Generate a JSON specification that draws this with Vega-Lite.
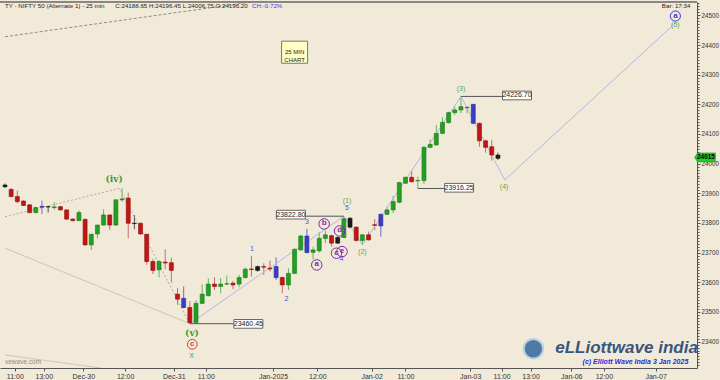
{
  "$schema": "https://vega.github.io/schema/vega-lite/v6.json",
  "width": 697,
  "height": 366,
  "autosize": "none",
  "padding": {"left": 0, "right": 23, "top": 2, "bottom": 12},
  "background": "#f2ead8",
  "config": {"view": {"stroke": null}, "font": "Liberation Sans"},
  "resolve": {"scale": {"color": "independent", "fill": "independent", "stroke": "independent", "size": "independent", "strokeDash": "independent"}, "axis": {"x": "independent", "y": "independent"}},
  "datasets": {
    "candles": [
      {"i":0,"o":23928,"h":23933,"l":23918,"c":23922,"k":"bk"},
      {"i":1,"o":23913,"h":23918,"l":23887,"c":23889,"k":"dn"},
      {"i":2,"o":23889,"h":23909,"l":23866,"c":23872,"k":"dn"},
      {"i":3,"o":23874,"h":23876,"l":23857,"c":23859,"k":"dn"},
      {"i":4,"o":23861,"h":23864,"l":23833,"c":23835,"k":"dn"},
      {"i":5,"o":23835,"h":23855,"l":23833,"c":23852,"k":"up"},
      {"i":6,"o":23853,"h":23875,"l":23830,"c":23856,"k":"bl"},
      {"i":7,"o":23855,"h":23856,"l":23835,"c":23854,"k":"bk"},
      {"i":8,"o":23852,"h":23870,"l":23844,"c":23854,"k":"up"},
      {"i":9,"o":23855,"h":23856,"l":23843,"c":23844,"k":"dn"},
      {"i":10,"o":23844,"h":23846,"l":23810,"c":23813,"k":"dn"},
      {"i":11,"o":23813,"h":23816,"l":23805,"c":23808,"k":"dn"},
      {"i":12,"o":23808,"h":23843,"l":23806,"c":23835,"k":"up"},
      {"i":13,"o":23812,"h":23815,"l":23724,"c":23726,"k":"dn"},
      {"i":14,"o":23726,"h":23762,"l":23709,"c":23762,"k":"up"},
      {"i":15,"o":23763,"h":23794,"l":23748,"c":23793,"k":"up"},
      {"i":16,"o":23793,"h":23846,"l":23792,"c":23827,"k":"up"},
      {"i":17,"o":23827,"h":23828,"l":23777,"c":23793,"k":"dn"},
      {"i":18,"o":23793,"h":23879,"l":23790,"c":23878,"k":"up"},
      {"i":19,"o":23878,"h":23917,"l":23872,"c":23881,"k":"up"},
      {"i":20,"o":23884,"h":23902,"l":23748,"c":23799,"k":"dn"},
      {"i":21,"o":23799,"h":23827,"l":23779,"c":23798,"k":"bk"},
      {"i":22,"o":23799,"h":23801,"l":23760,"c":23763,"k":"dn"},
      {"i":23,"o":23762,"h":23762,"l":23659,"c":23670,"k":"dn"},
      {"i":24,"o":23670,"h":23678,"l":23628,"c":23640,"k":"dn"},
      {"i":25,"o":23642,"h":23675,"l":23617,"c":23670,"k":"up"},
      {"i":26,"o":23668,"h":23711,"l":23644,"c":23665,"k":"dn"},
      {"i":27,"o":23666,"h":23683,"l":23599,"c":23640,"k":"dn"},
      {"i":28,"o":23560,"h":23580,"l":23524,"c":23543,"k":"dn"},
      {"i":29,"o":23546,"h":23586,"l":23513,"c":23515,"k":"bl"},
      {"i":30,"o":23515,"h":23536,"l":23460.45,"c":23464,"k":"dn"},
      {"i":31,"o":23464,"h":23540,"l":23462,"c":23529,"k":"up"},
      {"i":32,"o":23529,"h":23593,"l":23527,"c":23560,"k":"up"},
      {"i":33,"o":23555,"h":23614,"l":23552,"c":23594,"k":"up"},
      {"i":34,"o":23594,"h":23617,"l":23574,"c":23586,"k":"dn"},
      {"i":35,"o":23586,"h":23614,"l":23563,"c":23594,"k":"up"},
      {"i":36,"o":23594,"h":23623,"l":23591,"c":23595,"k":"up"},
      {"i":37,"o":23597,"h":23605,"l":23577,"c":23591,"k":"dn"},
      {"i":38,"o":23594,"h":23625,"l":23583,"c":23616,"k":"up"},
      {"i":39,"o":23616,"h":23650,"l":23613,"c":23644,"k":"up"},
      {"i":40,"o":23645,"h":23689,"l":23619,"c":23643,"k":"dn"},
      {"i":41,"o":23653,"h":23656,"l":23636,"c":23640,"k":"bk"},
      {"i":42,"o":23653,"h":23664,"l":23625,"c":23651,"k":"dn"},
      {"i":43,"o":23648,"h":23673,"l":23636,"c":23645,"k":"dn"},
      {"i":44,"o":23653,"h":23684,"l":23608,"c":23616,"k":"bl"},
      {"i":45,"o":23616,"h":23619,"l":23563,"c":23591,"k":"dn"},
      {"i":46,"o":23591,"h":23647,"l":23574,"c":23630,"k":"up"},
      {"i":47,"o":23630,"h":23715,"l":23628,"c":23711,"k":"up"},
      {"i":48,"o":23709,"h":23760,"l":23707,"c":23756,"k":"up"},
      {"i":49,"o":23756,"h":23780,"l":23698,"c":23700,"k":"bl"},
      {"i":50,"o":23701,"h":23720,"l":23678,"c":23709,"k":"up"},
      {"i":51,"o":23706,"h":23769,"l":23700,"c":23748,"k":"up"},
      {"i":52,"o":23748,"h":23774,"l":23732,"c":23760,"k":"up"},
      {"i":53,"o":23757,"h":23760,"l":23720,"c":23732,"k":"dn"},
      {"i":54,"o":23732,"h":23754,"l":23730,"c":23751,"k":"bk"},
      {"i":55,"o":23751,"h":23822.8,"l":23749,"c":23814,"k":"up"},
      {"i":56,"o":23816,"h":23819,"l":23782,"c":23786,"k":"bk"},
      {"i":57,"o":23786,"h":23788,"l":23737,"c":23741,"k":"dn"},
      {"i":58,"o":23741,"h":23762,"l":23726,"c":23760,"k":"up"},
      {"i":59,"o":23760,"h":23771,"l":23741,"c":23743,"k":"dn"},
      {"i":60,"o":23794,"h":23813,"l":23776,"c":23792,"k":"dn"},
      {"i":61,"o":23790,"h":23832,"l":23754,"c":23829,"k":"bl"},
      {"i":62,"o":23829,"h":23855,"l":23827,"c":23844,"k":"up"},
      {"i":63,"o":23844,"h":23891,"l":23833,"c":23872,"k":"up"},
      {"i":64,"o":23870,"h":23939,"l":23866,"c":23936,"k":"up"},
      {"i":65,"o":23934,"h":23956,"l":23932,"c":23954,"k":"up"},
      {"i":66,"o":23954,"h":23975,"l":23937,"c":23939,"k":"dn"},
      {"i":67,"o":23942,"h":23956,"l":23916.25,"c":23943,"k":"up"},
      {"i":68,"o":23943,"h":24060,"l":23931,"c":24055,"k":"up"},
      {"i":69,"o":24055,"h":24082,"l":24052,"c":24065,"k":"up"},
      {"i":70,"o":24063,"h":24130,"l":24061,"c":24102,"k":"up"},
      {"i":71,"o":24102,"h":24156,"l":24100,"c":24139,"k":"up"},
      {"i":72,"o":24138,"h":24175,"l":24136,"c":24172,"k":"up"},
      {"i":73,"o":24172,"h":24192,"l":24164,"c":24181,"k":"up"},
      {"i":74,"o":24181,"h":24226.7,"l":24170,"c":24192,"k":"up"},
      {"i":75,"o":24188,"h":24194,"l":24170,"c":24190,"k":"up"},
      {"i":76,"o":24200,"h":24201,"l":24133,"c":24136,"k":"bl"},
      {"i":77,"o":24136,"h":24138,"l":24057,"c":24077,"k":"dn"},
      {"i":78,"o":24077,"h":24080,"l":24037,"c":24055,"k":"dn"},
      {"i":79,"o":24057,"h":24080,"l":24010,"c":24029,"k":"dn"},
      {"i":80,"o":24029,"h":24037,"l":24012,"c":24018,"k":"bk"}
    ],
    "trend": [
      {"g":"A","i":0,"v":24428},{"g":"A","i":40,"v":24545},
      {"g":"B","i":0,"v":23821},{"g":"B","i":18.6,"v":23917},{"g":"B","i":30,"v":23460.45},
      {"g":"C","i":0,"v":23715},{"g":"C","i":30,"v":23460.45},
      {"g":"D","i":0,"v":23355},{"g":"D","i":15.5,"v":23311}
    ],
    "wave": [
      {"i":30,"v":23460.45},{"i":55,"v":23822.8},{"i":58,"v":23726},
      {"i":74,"v":24226.7},{"i":81.1,"v":23945},{"i":108.8,"v":24474}
    ],
    "plines": [
      {"g":"P1","i":30,"v":23460.45},{"g":"P1","i":37.1,"v":23460.45},
      {"g":"P2","i":48.6,"v":23822.8},{"g":"P2","i":55,"v":23822.8},
      {"g":"P3","i":74,"v":24226.7},{"g":"P3","i":80.9,"v":24226.7},
      {"g":"P4","i":67,"v":23916.25},{"g":"P4","i":71.5,"v":23916.25}
    ],
    "boxes": [
      {"i":39.5,"v":23459.7,"t":"23460.45"},
      {"i":46.4,"v":23828,"t":"23822.80"},
      {"i":83.1,"v":24229.8,"t":"24226.70"},
      {"i":73.7,"v":23918.7,"t":"23916.25"}
    ],
    "labels": [
      {"i":17.7,"v":23948,"t":"(iv)","s":"gs"},
      {"i":30.35,"v":23430,"t":"(v)","s":"gs"},
      {"i":55.5,"v":23875,"t":"(1)","s":"g"},
      {"i":58,"v":23701,"t":"(2)","s":"g"},
      {"i":74,"v":24250.7,"t":"(3)","s":"g"},
      {"i":81,"v":23921.4,"t":"(4)","s":"g"},
      {"i":108.8,"v":24467.4,"t":"(5)","s":"g"},
      {"i":30.3,"v":23352,"t":"X","s":"x"},
      {"i":40.1,"v":23712.5,"t":"1","s":"b"},
      {"i":45.7,"v":23544,"t":"2","s":"b"},
      {"i":49,"v":23802,"t":"3","s":"b"},
      {"i":54.6,"v":23677.8,"t":"4","s":"b"},
      {"i":55.5,"v":23849.6,"t":"5","s":"b"}
    ],
    "circles": [
      {"i":30.4,"v":23391,"t":"c","s":"red"},
      {"i":108.8,"v":24497.7,"t":"a","s":"blue"},
      {"i":50.6,"v":23658.5,"t":"a","s":"purple"},
      {"i":51.8,"v":23796.7,"t":"b","s":"purple"},
      {"i":53.8,"v":23698,"t":"c","s":"purple"},
      {"i":54.3,"v":23773,"t":"d","s":"purple"},
      {"i":54.7,"v":23703.4,"t":"e","s":"purple"}
    ],
    "header": [
      {"i":0,"v":24531,"t":"TY - NIFTY 50 (Alternate 1) - 25 min","s":"dark"},
      {"i":17.9,"v":24531,"t":"C:24188.65  H:24196.45  L:24006.75  O:24196.20","s":"dark"},
      {"i":40.1,"v":24531,"t":"CH:-0.72%","s":"blue"},
      {"i":106.6,"v":24531,"t":"Bar: 17:34","s":"dark"}
    ],
    "note": [{"i":47,"v":24375.7,"t":"25 MIN|CHART"}],
    "tag": [{"i":113.6,"v":24021,"t":"24015"}],
    "logo": [{"i":89.3,"v":23379,"t":"eLLiottwave india"}],
    "globe": [{"i":85.76,"v":23376}],
    "copy": [{"i":110.9,"v":23332.7,"t":"(c) Elliott Wave India 3 Jan 2025"}],
    "web": [{"i":0,"v":23332,"t":"vewave.com"}],
    "frame": [{"v":24545}],
    "minor": [
      {"v":23320},{"v":23330},{"v":23340},{"v":23350},{"v":23360},{"v":23370},{"v":23380},{"v":23390},{"v":23410},{"v":23420},{"v":23430},{"v":23440},{"v":23450},{"v":23460},{"v":23470},{"v":23480},{"v":23490},{"v":23510},{"v":23520},{"v":23530},{"v":23540},{"v":23550},{"v":23560},{"v":23570},{"v":23580},{"v":23590},{"v":23610},{"v":23620},{"v":23630},{"v":23640},{"v":23650},{"v":23660},{"v":23670},{"v":23680},{"v":23690},{"v":23710},{"v":23720},{"v":23730},{"v":23740},{"v":23750},{"v":23760},{"v":23770},{"v":23780},{"v":23790},{"v":23810},{"v":23820},{"v":23830},{"v":23840},{"v":23850},{"v":23860},{"v":23870},{"v":23880},{"v":23890},{"v":23910},{"v":23920},{"v":23930},{"v":23940},{"v":23950},{"v":23960},{"v":23970},{"v":23980},{"v":23990},{"v":24010},{"v":24020},{"v":24030},{"v":24040},{"v":24050},{"v":24060},{"v":24070},{"v":24080},{"v":24090},{"v":24110},{"v":24120},{"v":24130},{"v":24140},{"v":24150},{"v":24160},{"v":24170},{"v":24180},{"v":24190},{"v":24210},{"v":24220},{"v":24230},{"v":24240},{"v":24250},{"v":24260},{"v":24270},{"v":24280},{"v":24290},{"v":24310},{"v":24320},{"v":24330},{"v":24340},{"v":24350},{"v":24360},{"v":24370},{"v":24380},{"v":24390},{"v":24410},{"v":24420},{"v":24430},{"v":24440},{"v":24450},{"v":24460},{"v":24470},{"v":24480},{"v":24490},{"v":24510},{"v":24520},{"v":24530},{"v":24540}
    ]
  },
  "layer": [
    {
      "data": {"name": "candles"},
      "mark": {"type": "rule", "strokeWidth": 1},
      "encoding": {
        "x": {"field": "i", "type": "quantitative",
          "scale": {"domain": [0, 111.5], "nice": false, "zero": false},
          "axis": {"title": null, "grid": false, "orient": "bottom",
            "values": [1.6, 6.3, 12.7, 19.5, 27.4, 32.6, 43.5, 50.7, 59.5, 65, 75.5, 80.6, 85.3, 91.9, 97.2, 105.6],
            "labelExpr": "['11:00','13:00','Dec-30','12:00','Dec-31','11:00','Jan-2025','12:00','Jan-02','11:00','Jan-03','11:00','13:00','Jan-06','12:00','Jan-07'][indexof([1.6, 6.3, 12.7, 19.5, 27.4, 32.6, 43.5, 50.7, 59.5, 65, 75.5, 80.6, 85.3, 91.9, 97.2, 105.6], datum.value)]",
            "labelFontSize": 7, "labelColor": "#333", "labelPadding": 1, "tickSize": 3,
            "tickColor": "#555", "domainColor": "#555", "labelOverlap": false, "labelFlush": false}},
        "y": {"field": "l", "type": "quantitative",
          "scale": {"domain": [23311, 24545], "nice": false, "zero": false},
          "axis": {"title": null, "grid": false, "orient": "right",
            "values": [23400, 23500, 23600, 23700, 23800, 23900, 24000, 24100, 24200, 24300, 24400, 24500],
            "format": "d",
            "labelFontSize": 6.3, "labelColor": "#333", "labelPadding": 1, "tickSize": 3,
            "tickColor": "#555", "domainColor": "#555", "labelOverlap": false, "labelBaseline": "middle", "labelFlush": false}},
        "y2": {"field": "h"},
        "color": {"field": "k", "type": "nominal",
          "scale": {"domain": ["up", "dn", "bl", "bk"], "range": ["#62b562", "#cc6a6a", "#6a6ad8", "#555555"]},
          "legend": null}
      }
    },
    {
      "data": {"name": "minor"},
      "mark": {"type": "rule", "opacity": 0},
      "encoding": {
        "y": {"field": "v", "type": "quantitative",
          "axis": {"title": null, "grid": false, "orient": "right", "values": [23320,23330,23340,23350,23360,23370,23380,23390,23410,23420,23430,23440,23450,23460,23470,23480,23490,23510,23520,23530,23540,23550,23560,23570,23580,23590,23610,23620,23630,23640,23650,23660,23670,23680,23690,23710,23720,23730,23740,23750,23760,23770,23780,23790,23810,23820,23830,23840,23850,23860,23870,23880,23890,23910,23920,23930,23940,23950,23960,23970,23980,23990,24010,24020,24030,24040,24050,24060,24070,24080,24090,24110,24120,24130,24140,24150,24160,24170,24180,24190,24210,24220,24230,24240,24250,24260,24270,24280,24290,24310,24320,24330,24340,24350,24360,24370,24380,24390,24410,24420,24430,24440,24450,24460,24470,24480,24490,24510,24520,24530,24540],
            "labels": false, "domain": false, "tickSize": 2, "tickColor": "#555"}}
      }
    },
    {
      "data": {"name": "trend"},
      "mark": {"type": "line", "strokeWidth": 1, "clip": true},
      "encoding": {
        "x": {"field": "i", "type": "quantitative", "axis": null},
        "y": {"field": "v", "type": "quantitative", "axis": null},
        "detail": {"field": "g"},
        "stroke": {"field": "g", "type": "nominal", "legend": null,
          "scale": {"domain": ["A", "B", "C", "D"], "range": ["#8a8a8a", "#b0aa9c", "#c9c2b2", "#c9c2b2"]}},
        "strokeDash": {"field": "g", "type": "nominal", "legend": null,
          "scale": {"domain": ["A", "B", "C", "D"], "range": [[3, 2], [2, 2], [1, 0], [1, 0]]}}
      }
    },
    {
      "data": {"name": "wave"},
      "mark": {"type": "line", "strokeWidth": 1, "color": "#b4b4e6", "clip": true},
      "encoding": {
        "x": {"field": "i", "type": "quantitative", "axis": null},
        "y": {"field": "v", "type": "quantitative", "axis": null}
      }
    },
    {
      "data": {"name": "plines"},
      "mark": {"type": "line", "strokeWidth": 1, "color": "#555555"},
      "encoding": {
        "x": {"field": "i", "type": "quantitative", "axis": null},
        "y": {"field": "v", "type": "quantitative", "axis": null},
        "detail": {"field": "g"}
      }
    },
    {
      "data": {"name": "candles"},
      "mark": {"type": "bar", "size": 4, "strokeWidth": 0.6},
      "encoding": {
        "x": {"field": "i", "type": "quantitative", "axis": null},
        "y": {"field": "o", "type": "quantitative", "axis": null},
        "y2": {"field": "c"},
        "fill": {"field": "k", "type": "nominal", "legend": null,
          "scale": {"domain": ["up", "dn", "bl", "bk"], "range": ["#22a022", "#c41414", "#3c3cc8", "#1a1a1a"]}},
        "stroke": {"field": "k", "type": "nominal", "legend": null,
          "scale": {"domain": ["up", "dn", "bl", "bk"], "range": ["#167816", "#8a0c0c", "#2a2a90", "#111111"]}},
        "opacity": {"value": 1}
      }
    },
    {
      "data": {"name": "boxes"},
      "mark": {"type": "point", "shape": "M-1,-0.3H1V0.3H-1Z", "filled": true, "fill": "#ffffff", "stroke": "#666666", "strokeWidth": 1, "size": 841, "opacity": 1},
      "encoding": {
        "x": {"field": "i", "type": "quantitative", "axis": null},
        "y": {"field": "v", "type": "quantitative", "axis": null}
      }
    },
    {
      "data": {"name": "boxes"},
      "mark": {"type": "text", "fontSize": 7, "color": "#222", "align": "center", "baseline": "middle"},
      "encoding": {
        "x": {"field": "i", "type": "quantitative", "axis": null},
        "y": {"field": "v", "type": "quantitative", "axis": null},
        "text": {"field": "t"}
      }
    },
    {
      "data": {"name": "labels"},
      "transform": [{"filter": "datum.s == 'gs'"}],
      "mark": {"type": "text", "font": "DejaVu Serif", "fontWeight": "bold", "fontSize": 9, "color": "#3f9a3f", "align": "center", "baseline": "middle"},
      "encoding": {
        "x": {"field": "i", "type": "quantitative", "axis": null},
        "y": {"field": "v", "type": "quantitative", "axis": null},
        "text": {"field": "t"}
      }
    },
    {
      "data": {"name": "labels"},
      "transform": [{"filter": "datum.s != 'gs'"}],
      "mark": {"type": "text", "fontSize": 7, "align": "center", "baseline": "middle"},
      "encoding": {
        "x": {"field": "i", "type": "quantitative", "axis": null},
        "y": {"field": "v", "type": "quantitative", "axis": null},
        "text": {"field": "t"},
        "color": {"field": "s", "type": "nominal", "legend": null,
          "scale": {"domain": ["g", "b", "x"], "range": ["#5aa55a", "#5050e0", "#1a9a9a"]}},
        "size": {"field": "s", "type": "nominal", "legend": null,
          "scale": {"domain": ["g", "b", "x"], "range": [7, 7, 10]}}
      }
    },
    {
      "data": {"name": "circles"},
      "mark": {"type": "point", "shape": "circle", "filled": false, "strokeWidth": 1, "opacity": 1},
      "encoding": {
        "x": {"field": "i", "type": "quantitative", "axis": null},
        "y": {"field": "v", "type": "quantitative", "axis": null},
        "stroke": {"field": "s", "type": "nominal", "legend": null,
          "scale": {"domain": ["red", "blue", "purple"], "range": ["#e03a3a", "#3a3ae0", "#7a2aa8"]}},
        "size": {"field": "s", "type": "nominal", "legend": null,
          "scale": {"domain": ["red", "blue", "purple"], "range": [95, 110, 60]}}
      }
    },
    {
      "data": {"name": "circles"},
      "mark": {"type": "text", "fontWeight": "bold", "align": "center", "baseline": "middle", "dy": -0.5},
      "encoding": {
        "x": {"field": "i", "type": "quantitative", "axis": null},
        "y": {"field": "v", "type": "quantitative", "axis": null},
        "text": {"field": "t"},
        "color": {"field": "s", "type": "nominal", "legend": null,
          "scale": {"domain": ["red", "blue", "purple"], "range": ["#e03a3a", "#3a3ae0", "#7a2aa8"]}},
        "size": {"field": "s", "type": "nominal", "legend": null,
          "scale": {"domain": ["red", "blue", "purple"], "range": [8, 8, 6]}}
      }
    },
    {
      "data": {"name": "header"},
      "mark": {"type": "text", "fontSize": 6.2, "align": "left", "baseline": "middle"},
      "encoding": {
        "x": {"field": "i", "type": "quantitative", "axis": null},
        "y": {"field": "v", "type": "quantitative", "axis": null},
        "text": {"field": "t"},
        "color": {"field": "s", "type": "nominal", "legend": null,
          "scale": {"domain": ["dark", "blue"], "range": ["#222222", "#3a3af0"]}}
      }
    },
    {
      "data": {"name": "note"},
      "mark": {"type": "point", "shape": "M-1,-0.85H1V0.85H-1Z", "filled": true, "fill": "#ffffc4", "stroke": "#777777", "strokeWidth": 1, "size": 676, "opacity": 1},
      "encoding": {
        "x": {"field": "i", "type": "quantitative", "axis": null},
        "y": {"field": "v", "type": "quantitative", "axis": null}
      }
    },
    {
      "data": {"name": "note"},
      "mark": {"type": "text", "fontSize": 6, "color": "#222", "align": "center", "baseline": "middle", "lineBreak": "|", "lineHeight": 7.5},
      "encoding": {
        "x": {"field": "i", "type": "quantitative", "axis": null},
        "y": {"field": "v", "type": "quantitative", "axis": null},
        "text": {"field": "t"}
      }
    },
    {
      "data": {"name": "tag"},
      "mark": {"type": "point", "shape": "M-1,0L-0.7,-0.43H1V0.43H-0.7Z", "filled": true, "fill": "#22cc22", "stroke": "#119911", "strokeWidth": 0.5, "size": 441, "opacity": 1},
      "encoding": {
        "x": {"field": "i", "type": "quantitative", "axis": null},
        "y": {"field": "v", "type": "quantitative", "axis": null}
      }
    },
    {
      "data": {"name": "tag"},
      "mark": {"type": "text", "fontSize": 6.5, "fontWeight": "bold", "color": "#000", "align": "center", "baseline": "middle", "dx": 1},
      "encoding": {
        "x": {"field": "i", "type": "quantitative", "axis": null},
        "y": {"field": "v", "type": "quantitative", "axis": null},
        "text": {"field": "t"}
      }
    },
    {
      "data": {"name": "globe"},
      "mark": {"type": "point", "shape": "circle", "filled": true, "fill": "#4f7aa6", "stroke": "#b8d2e6", "strokeWidth": 2, "size": 380, "opacity": 1},
      "encoding": {
        "x": {"field": "i", "type": "quantitative", "axis": null},
        "y": {"field": "v", "type": "quantitative", "axis": null}
      }
    },
    {
      "data": {"name": "logo"},
      "mark": {"type": "text", "fontSize": 17, "fontStyle": "italic", "fontWeight": "bold", "color": "#3a5580", "align": "left", "baseline": "middle"},
      "encoding": {
        "x": {"field": "i", "type": "quantitative", "axis": null},
        "y": {"field": "v", "type": "quantitative", "axis": null},
        "text": {"field": "t"}
      }
    },
    {
      "data": {"name": "copy"},
      "mark": {"type": "text", "fontSize": 7, "fontStyle": "italic", "fontWeight": "bold", "color": "#2a2ae0", "align": "right", "baseline": "middle"},
      "encoding": {
        "x": {"field": "i", "type": "quantitative", "axis": null},
        "y": {"field": "v", "type": "quantitative", "axis": null},
        "text": {"field": "t"}
      }
    },
    {
      "data": {"name": "web"},
      "mark": {"type": "text", "fontSize": 6.5, "color": "#8a8a8a", "align": "left", "baseline": "middle"},
      "encoding": {
        "x": {"field": "i", "type": "quantitative", "axis": null},
        "y": {"field": "v", "type": "quantitative", "axis": null},
        "text": {"field": "t"}
      }
    },
    {
      "data": {"name": "frame"},
      "mark": {"type": "rule", "color": "#666666", "strokeWidth": 1.5},
      "encoding": {
        "y": {"field": "v", "type": "quantitative", "axis": null}
      }
    }
  ]
}
